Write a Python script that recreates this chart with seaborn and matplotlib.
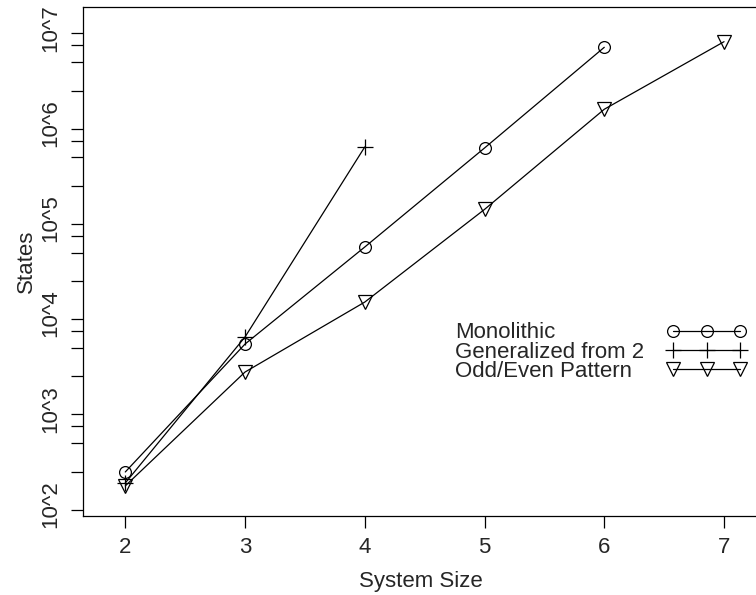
import matplotlib
matplotlib.use("Agg")
import matplotlib.pyplot as plt
import matplotlib.ticker as mticker
from matplotlib.lines import Line2D
from matplotlib.transforms import ScaledTranslation
import seaborn as sns

# values
mono_size = [2, 3, 4, 5, 6]
mono_states = [248, 5470, 57200, 627000, 7160000]

gen_size = [2, 3, 4]
gen_states = [190, 6490, 643000]

odd_size = [2, 3, 4, 5, 6, 7]
odd_states = [177, 2780, 15100, 142000, 1600000, 8200000]

series_names = ["Monolithic", "Generalized from 2", "Odd/Even Pattern"]
x_ticks = [2, 3, 4, 5, 6, 7]
y_decades = [2, 3, 4, 5, 6, 7]


def states_plot():
    sns.set_style("ticks")
    plt.rcParams["font.family"] = ["Liberation Sans", "DejaVu Sans"]
    fs = 16

    fig = plt.figure(figsize=(7.56, 5.95), dpi=100)
    # right spine sits just outside the picture, as in the reference
    ax = fig.add_axes([83 / 756, 79 / 595, 676 / 756, 508.7 / 595])

    styles = [
        dict(marker="o", markersize=8.5, mfc="none"),
        dict(marker="+", markersize=12),
        dict(marker="v", markersize=10, mfc="none"),
    ]
    data = [(mono_size, mono_states), (gen_size, gen_states), (odd_size, odd_states)]
    for (xs, ys), name, st in zip(data, series_names, styles):
        sns.lineplot(
            x=xs, y=ys, ax=ax, color="black", linewidth=0.9,
            mec="black", mew=0.9, label=name, legend=False, **st,
        )

    ax.set_yscale("log")
    ax.set_xlim(1.647, 7.292)
    ax.set_ylim(10 ** 1.932, 10 ** 7.275)

    ax.xaxis.set_major_locator(mticker.FixedLocator(x_ticks))
    ax.xaxis.set_major_formatter(mticker.FixedFormatter([str(v) for v in x_ticks]))
    ax.yaxis.set_major_locator(mticker.FixedLocator([10.0 ** d for d in y_decades]))
    ax.yaxis.set_major_formatter(mticker.FixedFormatter([f"10^{d}" for d in y_decades]))
    minors = [m * 10.0 ** d for d in y_decades[:-1] for m in (2.5, 5, 7.5)]
    ax.yaxis.set_minor_locator(mticker.FixedLocator(minors))
    ax.yaxis.set_minor_formatter(mticker.NullFormatter())

    for sp in ax.spines.values():
        sp.set_visible(True)
        sp.set_color("black")
        sp.set_linewidth(0.9)
    ax.tick_params(axis="both", which="both", direction="out", length=8.3,
                   width=0.9, color="black", labelsize=fs, pad=7)
    ax.tick_params(axis="y", labelrotation=90)
    shift = ScaledTranslation(0, 4 / 72, fig.dpi_scale_trans)
    for lab in ax.get_yticklabels():
        lab.set_va("center")
        lab.set_transform(lab.get_transform() + shift)

    ax.set_xlabel("System Size", fontsize=fs, labelpad=9)
    ax.set_ylabel("States", fontsize=fs, labelpad=3)

    # legend: left-aligned labels, sample lines to the right
    blanks = [Line2D([], [], linestyle="none") for _ in series_names]
    leg_text = ax.legend(
        blanks, series_names, loc="center left", bbox_to_anchor=(0.5498, 0.322),
        frameon=False, handlelength=0, handletextpad=0, labelspacing=-0.08,
        borderpad=0, borderaxespad=0, fontsize=fs,
    )
    ax.add_artist(leg_text)
    ax.legend(
        ax.lines[:3], [" "] * 3, loc="center left",
        bbox_to_anchor=((666 - 83) / 676, 0.322), frameon=False,
        numpoints=3, handlelength=3.65, handletextpad=0, labelspacing=-0.08,
        borderpad=0, borderaxespad=0, fontsize=fs,
    )

    fig.savefig("out.png", dpi=100)


if __name__ == "__main__":
    states_plot()
